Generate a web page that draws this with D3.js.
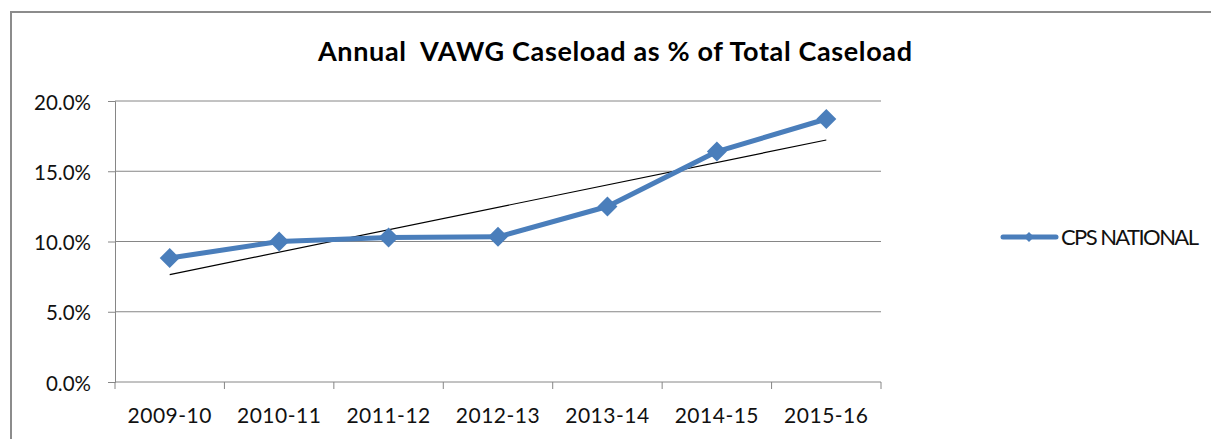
<!DOCTYPE html>
<meta charset="utf-8">
<style>
body { margin: 0; background: #fff; }
text { font-family: Lato, "Open Sans", sans-serif; fill: #000; }
.grid line { stroke: #868686; stroke-width: 1; }
.axis path, .axis line { stroke: #868686; }
.axis text { font-size: 21px; letter-spacing: 0.5px; fill: #111; }
.axis.y text { font-size: 20.5px; letter-spacing: 0; }
</style>
<body>
<script src="https://cdn.jsdelivr.net/npm/d3@7"></script>
<script>
// data
var years = ["2009-10", "2010-11", "2011-12", "2012-13", "2013-14", "2014-15", "2015-16"];
var vawgShare = [0.0882, 0.1000, 0.1028, 0.1033, 0.1249, 0.1640, 0.1872];
var yTicks = [0, 0.05, 0.10, 0.15, 0.20];
var seriesName = "CPS NATIONAL";
var title = "Annual  VAWG Caseload as % of Total Caseload";

var W = 1211, H = 439;
var margin = {top: 101, right: 330, bottom: 57, left: 115};
var width = W - margin.left - margin.right,   // ~766
    height = H - margin.top - margin.bottom;   // ~281

var svg = d3.select("body").append("svg")
    .attr("width", W)
    .attr("height", H);

// chart frame (runs off right and bottom edge)
svg.append("rect")
    .attr("x", 11).attr("y", 12)
    .attr("width", W + 20).attr("height", H + 20)
    .attr("fill", "none")
    .attr("stroke", "#8c8c8c")
    .attr("stroke-width", 2);

svg.append("text")
    .attr("x", 615).attr("y", 61)
    .attr("text-anchor", "middle")
    .attr("textLength", 594)
    .attr("lengthAdjust", "spacing")
    .style("font-size", "27px")
    .style("font-weight", "bold")
    .style("white-space", "pre")
    .text(title);

var g = svg.append("g")
    .attr("transform", "translate(" + margin.left + "," + margin.top + ")");

var x = d3.scaleBand().domain(years).range([0, width]);
var y = d3.scaleLinear().domain([0, 0.2]).range([height, 0]);

// gridlines
g.append("g").attr("class", "grid")
  .selectAll("line")
  .data(yTicks.slice(1))
  .enter().append("line")
    .attr("x1", 0).attr("x2", width)
    .attr("y1", function(d) { return y(d); })
    .attr("y2", function(d) { return y(d); });

// y axis
var yAxis = g.append("g").attr("class", "axis y")
    .call(d3.axisLeft(y).tickValues(yTicks).tickFormat(d3.format(".1%")).tickSizeOuter(0).tickSize(7).tickPadding(17));
yAxis.selectAll("text").attr("dy", "0.4em");

// x axis, ticks on category boundaries
var xAxis = g.append("g").attr("class", "axis")
    .attr("transform", "translate(0," + height + ")")
    .call(d3.axisBottom(x).tickSize(0).tickPadding(26));
xAxis.select(".domain").remove();
xAxis.append("line")
    .attr("x1", 0).attr("x2", width)
    .attr("stroke", "#868686");
xAxis.selectAll(".bound")
    .data(d3.range(years.length + 1))
  .enter().append("line")
    .attr("class", "bound")
    .attr("x1", function(i) { return i * x.step(); })
    .attr("x2", function(i) { return i * x.step(); })
    .attr("y1", 0).attr("y2", 7)
    .attr("stroke", "#868686");

var cx = function(d, i) { return x(years[i]) + x.bandwidth() / 2; };

// linear trendline (least squares over the series)
var n = vawgShare.length;
var mx = d3.mean(d3.range(n)), my = d3.mean(vawgShare);
var slope = d3.sum(vawgShare, function(v, i) { return (i - mx) * (v - my); }) /
            d3.sum(d3.range(n), function(i) { return (i - mx) * (i - mx); });
var trend = [my - slope * mx, my + slope * (n - 1 - mx)];
g.append("line")
    .attr("x1", cx(null, 0)).attr("y1", y(trend[0]))
    .attr("x2", cx(null, n - 1)).attr("y2", y(trend[1]))
    .attr("stroke", "#000")
    .attr("stroke-width", 1.2);

var line = d3.line()
    .x(cx)
    .y(function(d) { return y(d); });

g.append("path")
    .datum(vawgShare)
    .attr("fill", "none")
    .attr("stroke", "#4a7ebb")
    .attr("stroke-width", 5)
    .attr("stroke-linejoin", "round")
    .attr("d", line);

var diamond = d3.symbol().type(d3.symbolSquare).size(200);
g.selectAll(".dot")
    .data(vawgShare)
  .enter().append("path")
    .attr("class", "dot")
    .attr("d", diamond)
    .attr("fill", "#4a7ebb")
    .attr("transform", function(d, i) { return "translate(" + cx(d, i) + "," + y(d) + ") rotate(45)"; });

// legend
var lg = svg.append("g").attr("transform", "translate(1003,237)");
lg.append("line")
    .attr("x1", 0).attr("x2", 53)
    .attr("stroke", "#4a7ebb")
    .attr("stroke-width", 5)
    .attr("stroke-linecap", "round");
lg.append("path")
    .attr("d", d3.symbol().type(d3.symbolSquare).size(50))
    .attr("fill", "#4a7ebb")
    .attr("transform", "translate(26,0) rotate(45)");
lg.append("text")
    .attr("x", 58).attr("y", 8)
    .attr("textLength", 138)
    .attr("lengthAdjust", "spacing")
    .style("font-size", "22px")
    .style("fill", "#111")
    .text(seriesName);
</script>
</body>
